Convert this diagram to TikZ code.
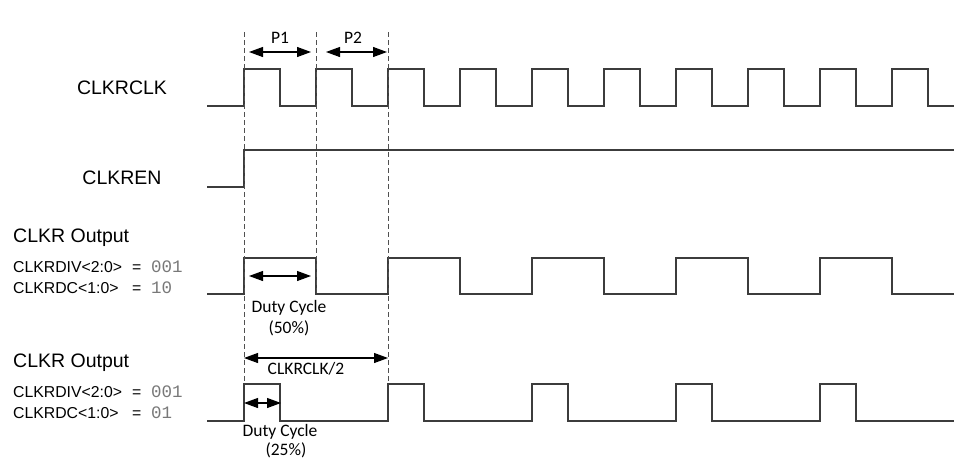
\documentclass[tikz,border=0pt]{standalone}
\usepackage{fontspec}
\setmainfont{Liberation Sans}
\newfontfamily\calfnt{Carlito}
\newfontfamily\monofnt{Liberation Mono}
\usetikzlibrary{arrows.meta}
\definecolor{sig}{RGB}{60,60,60}
\definecolor{dash}{RGB}{80,80,80}
\definecolor{valgray}{RGB}{120,120,120}
\tikzset{
  signal/.style={draw=sig, line width=1.4pt, line join=miter},
  guide/.style={draw=dash, line width=1pt, dash pattern=on 5pt off 3pt},
  dim/.style={draw=black, line width=1.1pt, {Triangle[length=14pt,width=10pt]}-{Triangle[length=14pt,width=10pt]}},
  biglbl/.style={inner sep=0pt, font=\fontsize{19.5}{22}\selectfont},
  setlbl/.style={inner sep=0pt, anchor=base west, font=\fontsize{15.8}{18}\selectfont},
  vallbl/.style={inner sep=0pt, anchor=base west, text=valgray, font=\monofnt\fontsize{17.5}{20}\selectfont},
  note/.style={inner sep=0pt, font=\calfnt\fontsize{17.5}{20}\selectfont},
}
\begin{document}
\begin{tikzpicture}[x=1pt,y=-1pt]
\useasboundingbox (0,0) rectangle (954,459);
% guide coordinates
\coordinate (g1t) at (244,32);
\coordinate (g1b) at (244,384);
\coordinate (g2t) at (316,32);
\coordinate (g2b) at (316,294);
\coordinate (g3t) at (388,32);
\coordinate (g3b) at (388,384);
% signals
\draw[signal] (207,106) foreach \i in {0,...,9} { -- (244+72*\i,106) -- ++(0,-37) -- ++(36,0) -- ++(0,37) } -- (954,106);
\draw[signal] (207,187) -- (244,187) -- (244,150) -- (954,150);
\draw[signal] (207,294) foreach \i in {0,...,4} { -- (244+144*\i,294) -- ++(0,-36) -- ++(72,0) -- ++(0,36) } -- (954,294);
\draw[signal] (207,421) foreach \i in {0,...,4} { -- (244+144*\i,421) -- ++(0,-37) -- ++(36,0) -- ++(0,37) } -- (954,421);
% guides
\draw[guide] (g1t) -- (g1b);
\draw[guide] (g2t) -- (g2b);
\draw[guide] (g3t) -- (g3b);
% dimension arrows
\coordinate (p1a) at (249,52); \coordinate (p1b) at (311,52);
\coordinate (p2a) at (326,52); \coordinate (p2b) at (387,52);
\coordinate (d1a) at (249,276); \coordinate (d1b) at (311,276);
\coordinate (ha) at (244,358); \coordinate (hb) at (388,358);
\coordinate (d2a) at (244,403); \coordinate (d2b) at (281,403);
\draw[dim] (p1a) -- (p1b);
\draw[dim] (p2a) -- (p2b);
\draw[dim] (d1a) -- (d1b);
\draw[dim] (ha) -- (hb);
\draw[dim] (d2a) -- (d2b);
% annotations
\node[note] (tp1) at (280,38) {P1};
\node[note] (tp2) at (353,38) {P2};
\node[note, anchor=base] (td1) at (289,312) {Duty Cycle};
\node[note, anchor=base] (td1p) at (289,333) {(50\%)};
\node[note, anchor=base] (thalf) at (306,374) {CLKRCLK/2};
\node[note, anchor=base] (td2) at (280,436) {Duty Cycle};
\node[note, anchor=base] (td2p) at (286,455) {(25\%)};
% labels
\node[biglbl, anchor=base] (lclk) at (122,94) {CLKRCLK};
\node[biglbl, anchor=base] (len) at (122,184) {CLKREN};
\node[biglbl, anchor=base west] (lo1) at (13,242) {CLKR Output};
\node[setlbl] (lo1a) at (13,272) {CLKRDIV<2:0>};
\node[setlbl] (lo1ae) at (132,272) {=};
\node[vallbl] (lo1av) at (151,272) {001};
\node[setlbl] (lo1b) at (13,293) {CLKRDC<1:0>};
\node[setlbl] (lo1be) at (132,293) {=};
\node[vallbl] (lo1bv) at (151,293) {10};
\node[biglbl, anchor=base west] (lo2) at (13,367) {CLKR Output};
\node[setlbl] (lo2a) at (13,397) {CLKRDIV<2:0>};
\node[setlbl] (lo2ae) at (132,397) {=};
\node[vallbl] (lo2av) at (151,397) {001};
\node[setlbl] (lo2b) at (13,418) {CLKRDC<1:0>};
\node[setlbl] (lo2be) at (132,418) {=};
\node[vallbl] (lo2bv) at (151,418) {01};
\end{tikzpicture}
\end{document}
